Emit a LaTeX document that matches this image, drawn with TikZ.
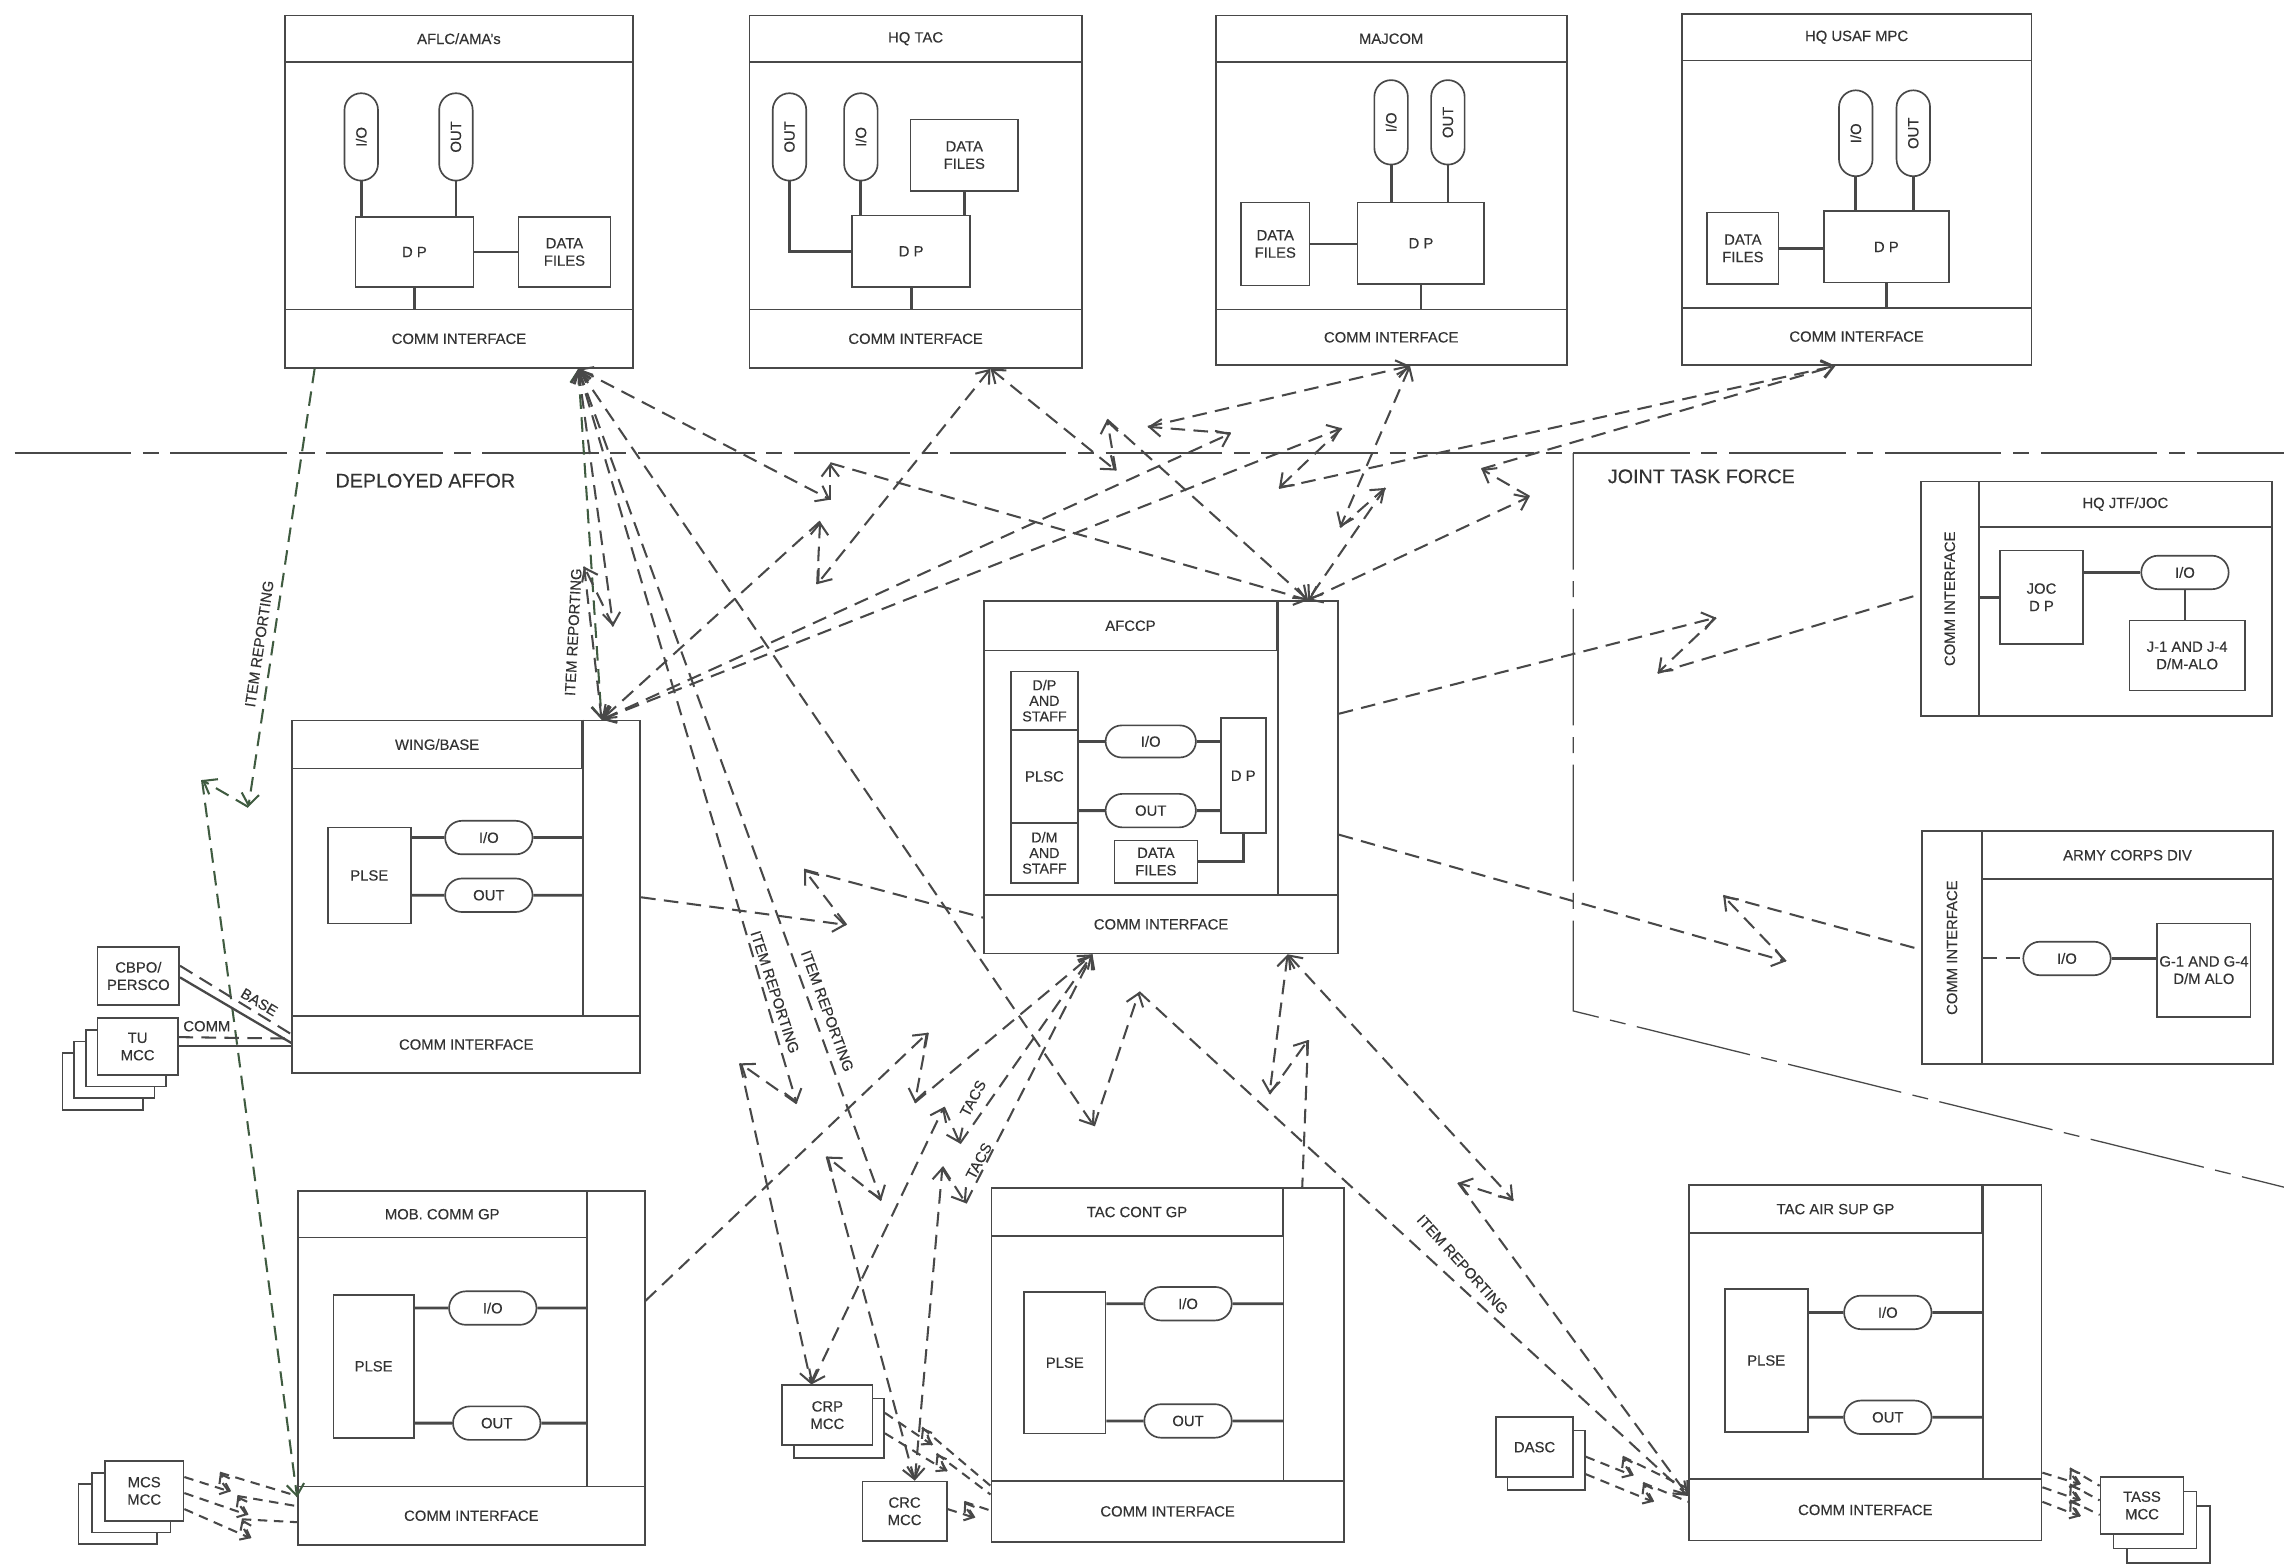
\documentclass[tikz,border=0pt]{standalone}
\usepackage{fontspec}
\setmainfont{Liberation Sans}[FakeBold=0.25]
\usetikzlibrary{arrows.meta,shapes.misc}
\definecolor{ink}{HTML}{484848}
\definecolor{inkt}{HTML}{333333}
\definecolor{inkg}{HTML}{3F5B40}

\begin{document}
\begin{tikzpicture}[x=0.2mm, y=-0.2mm,
		font=\fontsize{5.8}{6.8}\selectfont,
		box/.style={draw=ink, line width=0.65pt, anchor=north west, inner sep=0pt, text=inkt},
		frame/.style={draw=ink, line width=0.65pt},
		blk/.style={draw=ink, line width=0.65pt, inner sep=0pt, align=center, text=inkt},
		sheet/.style={blk, fill=white},
		pill/.style={blk, rounded rectangle, minimum width=12mm, minimum height=4.6mm},
		vpill/.style={pill, rotate=90},
		wire/.style={draw=ink, line width=1.1pt},
		link/.style={draw=ink, line width=0.8pt, dash pattern=on 2mm off 1.15mm, >={Straight Barb[length=1.6mm, width=2.4mm]}},
		glink/.style={link, draw=inkg},
		zap/.style={link, dash pattern=on 1.3mm off 0.9mm, >={Straight Barb[length=1.1mm, width=1.6mm]}},
		zone/.style={draw=ink, line width=0.5pt, dash pattern=on 16mm off 1.6mm on 2.2mm off 1.6mm},
		tag/.style={text=inkt, inner sep=0pt},
		region/.style={text=inkt, inner sep=0pt, font=\fontsize{7.7}{9}\selectfont}]
		\useasboundingbox[fill=white] (0,0) rectangle (1568,1074);

		% region borders
		\draw[zone] (10,311) -- (1568,311);
		\draw[zone] (1080,311) -- (1080,694) -- (1568,815);
		\node[region] (affor) at (292,330) {DEPLOYED AFFOR};
		\node[region] (jtforce) at (1168,327) {JOINT TASK FORCE};

		% AFLC/AMA's
		\node[box, minimum width=47.8mm, minimum height=48.4mm] (aflc) at (195,10) {};
		\node[box, minimum width=47.8mm, minimum height=6.4mm] (aflc-t) at (195,10) {AFLC/AMA's};
		\node[box, minimum width=47.8mm, minimum height=8mm] (aflc-ci) at (195,212) {COMM INTERFACE};
		\node[vpill] (aflc-io) at (248,94) {I/O};
		\node[vpill] (aflc-out) at (313,94) {OUT};
		\node[blk, minimum width=16.2mm, minimum height=9.6mm] (aflc-dp) at (284.5,173) {D P};
		\node[blk, minimum width=12.6mm, minimum height=9.6mm] (aflc-df) at (387.5,173) {DATA\\FILES};
		\draw[wire] (aflc-io.west) -- (aflc-io.west |- aflc-dp.north);
		\draw[wire] (aflc-out.west) -- (aflc-out.west |- aflc-dp.north);
		\draw[wire] (aflc-dp) -- (aflc-df);
		\draw[wire] (aflc-dp.south) -- (aflc-dp.south |- aflc-ci.north);

		% HQ TAC
		\node[box, minimum width=45.6mm, minimum height=48.4mm] (hqtac) at (514,10) {};
		\node[box, minimum width=45.6mm, minimum height=6.4mm] (hqtac-t) at (514,10) {HQ TAC};
		\node[box, minimum width=45.6mm, minimum height=8mm] (hqtac-ci) at (514,212) {COMM INTERFACE};
		\node[vpill] (hqtac-out) at (542,94) {OUT};
		\node[vpill] (hqtac-io) at (591,94) {I/O};
		\node[blk, minimum width=14.8mm, minimum height=9.8mm] (hqtac-df) at (662,106.5) {DATA\\FILES};
		\node[blk, minimum width=16.2mm, minimum height=9.8mm] (hqtac-dp) at (625.5,172.5) {D P};
		\draw[wire] (hqtac-out.west) |- (hqtac-dp.west);
		\draw[wire] (hqtac-io.west) -- (hqtac-io.west |- hqtac-dp.north);
		\draw[wire] (hqtac-df.south) -- (hqtac-df.south |- hqtac-dp.north);
		\draw[wire] (hqtac-dp.south) -- (hqtac-dp.south |- hqtac-ci.north);

		% MAJCOM
		\node[box, minimum width=48.2mm, minimum height=48mm] (majcom) at (834,10) {};
		\node[box, minimum width=48.2mm, minimum height=6.4mm] (majcom-t) at (834,10) {MAJCOM};
		\node[box, minimum width=48.2mm, minimum height=7.6mm] (majcom-ci) at (834,212) {COMM INTERFACE};
		\node[vpill, minimum width=11.6mm] (majcom-io) at (955,84) {I/O};
		\node[vpill, minimum width=11.6mm] (majcom-out) at (994,84) {OUT};
		\node[blk, minimum width=9.4mm, minimum height=11.4mm] (majcom-df) at (875.5,167.5) {DATA\\FILES};
		\node[blk, minimum width=17.4mm, minimum height=11.2mm] (majcom-dp) at (975.5,167) {D P};
		\draw[wire] (majcom-io.west) -- (majcom-io.west |- majcom-dp.north);
		\draw[wire] (majcom-out.west) -- (majcom-out.west |- majcom-dp.north);
		\draw[wire] (majcom-df.east) -- (majcom-df.east -| majcom-dp.west);
		\draw[wire] (majcom-dp.south) -- (majcom-dp.south |- majcom-ci.north);

		% HQ USAF MPC
		\node[box, minimum width=48mm, minimum height=48.2mm] (mpc) at (1154,9) {};
		\node[box, minimum width=48mm, minimum height=6.4mm] (mpc-t) at (1154,9) {HQ USAF MPC};
		\node[box, minimum width=48mm, minimum height=7.8mm] (mpc-ci) at (1154,211) {COMM INTERFACE};
		\node[vpill, minimum width=11.8mm] (mpc-io) at (1274,91.5) {I/O};
		\node[vpill, minimum width=11.8mm] (mpc-out) at (1313.5,91.5) {OUT};
		\node[blk, minimum width=9.8mm, minimum height=9.8mm] (mpc-df) at (1196.5,170.5) {DATA\\FILES};
		\node[blk, minimum width=17.2mm, minimum height=9.8mm] (mpc-dp) at (1295,169.5) {D P};
		\draw[wire] (mpc-io.west) -- (mpc-io.west |- mpc-dp.north);
		\draw[wire] (mpc-out.west) -- (mpc-out.west |- mpc-dp.north);
		\draw[wire] (mpc-df.east) -- (mpc-df.east -| mpc-dp.west);
		\draw[wire] (mpc-dp.south) -- (mpc-dp.south |- mpc-ci.north);

		% WING/BASE
		\node[box, minimum width=47.8mm, minimum height=48.4mm] (wing) at (200,494) {};
		\node[box, minimum width=39.8mm, minimum height=6.6mm] (wing-t) at (200,494) {WING/BASE};
		\node[box, minimum width=47.8mm, minimum height=7.8mm] (wing-ci) at (200,697) {COMM INTERFACE};
		\draw[frame] (wing-t.north east) -- (wing-t.north east |- wing-ci.north);
		\node[blk, minimum width=11.4mm, minimum height=13.2mm] (wing-plse) at (253.5,601) {PLSE};
		\node[pill] (wing-io) at (335.6,575) {I/O};
		\node[pill] (wing-out) at (335.6,614.6) {OUT};
		\draw[wire] (wing-plse.east |- wing-io) -- (wing-io) -- (wing-io -| wing-t.east);
		\draw[wire] (wing-plse.east |- wing-out) -- (wing-out) -- (wing-out -| wing-t.east);

		% AFCCP
		\node[box, minimum width=48.6mm, minimum height=48.4mm] (afccp) at (675,412) {};
		\node[box, minimum width=40.2mm, minimum height=6.8mm] (afccp-t) at (675,412) {AFCCP};
		\node[box, minimum width=48.6mm, minimum height=8mm] (afccp-ci) at (675,614) {COMM INTERFACE};
		\draw[frame] (afccp-t.north east) -- (afccp-t.north east |- afccp-ci.north);
		\node[blk, minimum width=9.2mm, minimum height=8mm, font=\fontsize{5.6}{6.1}\selectfont] (afccp-dps) at (717,481) {D/P\\AND\\STAFF};
		\node[blk, minimum width=9.2mm, minimum height=12.8mm] (afccp-plsc) at (717,533) {PLSC};
		\node[blk, minimum width=9.2mm, minimum height=8.2mm, font=\fontsize{5.6}{6.1}\selectfont] (afccp-dms) at (717,585.5) {D/M\\AND\\STAFF};
		\node[pill, minimum width=12.4mm, minimum height=4.4mm] (afccp-io) at (790,509) {I/O};
		\node[pill, minimum width=12.4mm] (afccp-out) at (790,556.5) {OUT};
		\node[blk, minimum width=6.2mm, minimum height=15.8mm] (afccp-dp) at (853.5,532.5) {D P};
		\node[blk, minimum width=11.4mm, minimum height=5.8mm] (afccp-df) at (793.5,591.5) {DATA\\FILES};
		\draw[wire] (afccp-plsc.east |- afccp-io) -- (afccp-io) -- (afccp-io -| afccp-dp.west);
		\draw[wire] (afccp-plsc.east |- afccp-out) -- (afccp-out) -- (afccp-out -| afccp-dp.west);
		\draw[wire] (afccp-dp.south) |- (afccp-df.east);

		% HQ JTF/JOC
		\node[box, minimum width=48.2mm, minimum height=32.2mm] (jtf) at (1318,330) {};
		\node[box, minimum width=8mm, minimum height=32.2mm] (jtf-ci) at (1318,330) {};
		\node[tag, rotate=90] (jtf-cit) at (jtf-ci) {COMM INTERFACE};
		\node[box, minimum width=40.2mm, minimum height=6.2mm] (jtf-t) at (1358,330) {HQ JTF/JOC};
		\node[blk, minimum width=11.4mm, minimum height=12.8mm] (jtf-dp) at (1401.5,410) {JOC\\D P};
		\node[pill] (jtf-io) at (1500,393) {I/O};
		\node[blk, minimum width=15.8mm, minimum height=9.6mm] (jtf-j) at (1501.5,450) {J-1 AND J-4\\D/M-ALO};
		\draw[wire] (jtf-ci.east |- jtf-dp) -- (jtf-dp);
		\draw[wire] (jtf-io -| jtf-dp.east) -- (jtf-io);
		\draw[wire] (jtf-io.south) -- (jtf-io.south |- jtf-j.north);

		% ARMY CORPS DIV
		\node[box, minimum width=48.2mm, minimum height=32mm] (army) at (1319,570) {};
		\node[box, minimum width=8.2mm, minimum height=32mm] (army-ci) at (1319,570) {};
		\node[tag, rotate=90] (army-cit) at (army-ci) {COMM INTERFACE};
		\node[box, minimum width=40mm, minimum height=6.6mm] (army-t) at (1360,570) {ARMY CORPS DIV};
		\node[pill] (army-io) at (1419,658) {I/O};
		\node[blk, minimum width=12.8mm, minimum height=12.8mm] (army-g) at (1513,666) {};
		\node[tag, align=center] (army-gt) at (army-g) {G-1 AND G-4\\D/M ALO};
		\draw[link] (army-ci.east |- army-io) -- (army-io);
		\draw[wire] (army-io) -- (army-io -| army-g.west);

		% MOB. COMM GP
		\node[box, minimum width=47.6mm, minimum height=48.6mm] (mob) at (204,817) {};
		\node[box, minimum width=39.6mm, minimum height=6.4mm] (mob-t) at (204,817) {MOB. COMM GP};
		\node[box, minimum width=47.6mm, minimum height=8mm] (mob-ci) at (204,1020) {COMM INTERFACE};
		\draw[frame] (mob-t.north east) -- (mob-t.north east |- mob-ci.north);
		\node[blk, minimum width=11mm, minimum height=19.6mm] (mob-plse) at (256.5,938) {PLSE};
		\node[pill] (mob-io) at (338.3,898) {I/O};
		\node[pill] (mob-out) at (341,977) {OUT};
		\draw[wire] (mob-plse.east |- mob-io) -- (mob-io) -- (mob-io -| mob-t.east);
		\draw[wire] (mob-plse.east |- mob-out) -- (mob-out) -- (mob-out -| mob-t.east);

		% TAC CONT GP
		\node[box, minimum width=48.4mm, minimum height=48.6mm] (tcg) at (680,815) {};
		\node[box, minimum width=40mm, minimum height=6.6mm] (tcg-t) at (680,815) {TAC CONT GP};
		\node[box, minimum width=48.4mm, minimum height=8.4mm] (tcg-ci) at (680,1016) {COMM INTERFACE};
		\draw[frame] (tcg-t.north east) -- (tcg-t.north east |- tcg-ci.north);
		\node[blk, minimum width=11.2mm, minimum height=19.4mm] (tcg-plse) at (731,935.5) {PLSE};
		\node[pill] (tcg-io) at (815.6,895) {I/O};
		\node[pill] (tcg-out) at (815.6,975.5) {OUT};
		\draw[wire] (tcg-plse.east |- tcg-io) -- (tcg-io) -- (tcg-io -| tcg-t.east);
		\draw[wire] (tcg-plse.east |- tcg-out) -- (tcg-out) -- (tcg-out -| tcg-t.east);

		% TAC AIR SUP GP
		\node[box, minimum width=48.4mm, minimum height=48.8mm] (tasg) at (1159,813) {};
		\node[box, minimum width=40.2mm, minimum height=6.6mm] (tasg-t) at (1159,813) {TAC AIR SUP GP};
		\node[box, minimum width=48.4mm, minimum height=8.4mm] (tasg-ci) at (1159,1015) {COMM INTERFACE};
		\draw[frame] (tasg-t.north east) -- (tasg-t.north east |- tasg-ci.north);
		\node[blk, minimum width=11.4mm, minimum height=19.6mm] (tasg-plse) at (1212.5,934) {PLSE};
		\node[pill] (tasg-io) at (1296,901) {I/O};
		\node[pill] (tasg-out) at (1296,973) {OUT};
		\draw[wire] (tasg-plse.east |- tasg-io) -- (tasg-io) -- (tasg-io -| tasg-t.east);
		\draw[wire] (tasg-plse.east |- tasg-out) -- (tasg-out) -- (tasg-out -| tasg-t.east);

		% small units
		\node[sheet, minimum width=11mm, minimum height=7.8mm] (tu-b3) at (70.5,742.5) {};
		\node[sheet, minimum width=11mm, minimum height=7.8mm] (tu-b2) at (78.5,734.5) {};
		\node[sheet, minimum width=11mm, minimum height=7.8mm] (tu-b1) at (86.5,726.5) {};
		\node[sheet, minimum width=11mm, minimum height=7.8mm] (tu) at (94.5,718.5) {TU\\MCC};
		\node[sheet, minimum width=11.2mm, minimum height=8mm] (cbpo) at (95,670) {CBPO/\\PERSCO};
		\node[sheet, minimum width=10.8mm, minimum height=8.2mm] (mcs-b2) at (81,1039.5) {};
		\node[sheet, minimum width=10.8mm, minimum height=8.2mm] (mcs-b1) at (90,1031.5) {};
		\node[sheet, minimum width=10.8mm, minimum height=8.2mm] (mcs) at (99,1023.5) {MCS\\MCC};
		\node[sheet, minimum width=12.4mm, minimum height=8.2mm] (crp-b) at (576,980.5) {};
		\node[sheet, minimum width=12.4mm, minimum height=8.2mm] (crp) at (568,971.5) {CRP\\MCC};
		\node[sheet, minimum width=11.6mm, minimum height=8.2mm] (crc) at (621,1037.5) {CRC\\MCC};
		\node[sheet, minimum width=10.6mm, minimum height=8.2mm] (dasc-b) at (1061.5,1002.5) {};
		\node[sheet, minimum width=10.6mm, minimum height=8.2mm] (dasc) at (1053.5,993.5) {DASC};
		\node[sheet, minimum width=11.4mm, minimum height=7.8mm] (tass-b2) at (1488.5,1053.5) {};
		\node[sheet, minimum width=11.4mm, minimum height=7.8mm] (tass-b1) at (1479.5,1043.5) {};
		\node[sheet, minimum width=11.4mm, minimum height=7.8mm] (tass) at (1470.5,1033.5) {TASS\\MCC};

		% link end points
		\coordinate (aflc-h1) at (216,0 |- aflc.south);
		\coordinate (aflc-h2) at (397,0 |- aflc.south);
		\coordinate (hqtac-h) at (680,0 |- hqtac.south);
		\coordinate (majcom-h) at (968,0 |- majcom.south);
		\coordinate (mpc-h) at (1260,0 |- mpc.south);
		\coordinate (wing-h) at (413,0 |- wing.north);
		\coordinate (wing-e) at (wing.east |- 0,616);
		\coordinate (afccp-h) at (898,0 |- afccp.north);
		\coordinate (afccp-s1) at (750,0 |- afccp.south);
		\coordinate (afccp-s2) at (884,0 |- afccp.south);
		\coordinate (afccp-e1) at (afccp.east |- 0,490);
		\coordinate (afccp-e2) at (afccp.east |- 0,573);
		\coordinate (afccp-w) at (afccp.west |- 0,630);
		\coordinate (jtf-w) at (jtf.west |- 0,408);
		\coordinate (army-w) at (army.west |- 0,652);
		\coordinate (mob-e) at (mob.east |- 0,893);
		\coordinate (mob-w) at (mob.west |- 0,1028);
		\coordinate (tcg-h) at (894,0 |- tcg.north);
		\coordinate (tasg-w) at (tasg.west |- 0,1027);
		\coordinate (crp-h) at (557,0 |- crp.north);
		\coordinate (crc-h) at (628,0 |- crc.north);

		% zig points of the radio links
		\coordinate (z1a) at (170.5,554);  \coordinate (z1b) at (138.7,535.5);
		\coordinate (z3a) at (421,430);    \coordinate (z3b) at (401,389);
		\coordinate (z4a) at (547,757.5);  \coordinate (z4b) at (508,730);
		\coordinate (z5a) at (605,824);    \coordinate (z5b) at (567.5,794);
		\coordinate (z6a) at (751,773);    \coordinate (z6b) at (782,681);
		\coordinate (z7a) at (570,343);    \coordinate (z7b) at (570,318);
		\coordinate (z8a) at (561,401);    \coordinate (z8b) at (563,358);
		\coordinate (z9a) at (766,323);    \coordinate (z9b) at (760,288);
		\coordinate (z10a) at (845,297.5); \coordinate (z10b) at (788,293);
		\coordinate (z11a) at (921,294);   \coordinate (z11b) at (878,335);
		\coordinate (z12a) at (920,362);   \coordinate (z12b) at (951,335);
		\coordinate (z13a) at (1050,341);  \coordinate (z13b) at (1017,322);
		\coordinate (z14a) at (1178,424);  \coordinate (z14b) at (1138,462);
		\coordinate (z15a) at (1226,660);  \coordinate (z15b) at (1183,615);
		\coordinate (z16a) at (581,635);   \coordinate (z16b) at (552,597);
		\coordinate (z17a) at (637,709);   \coordinate (z17b) at (628,757);
		\coordinate (z18a) at (648,760);   \coordinate (z18b) at (659,785);
		\coordinate (z19a) at (647,801);   \coordinate (z19b) at (663,826);
		\coordinate (z20a) at (871.5,751); \coordinate (z20b) at (898,714);
		\coordinate (z21a) at (1039,824);  \coordinate (z21b) at (1001,812);

		% long links
		\draw[glink] (aflc-h1) edge[->] (z1a) (z1a) edge[->] (z1b) (z1b) edge[->] (mob-w);
		\draw[glink, <->] (aflc-h2) -- (wing-h);
		\draw[link] (aflc-h2) edge[<->] (z3a) (z3a) edge[->] (z3b) (z3b) edge[->] (wing-h);
		\draw[link] (aflc-h2) edge[<->] (z4a) (z4a) edge[->] (z4b) (z4b) edge[->] (crp-h);
		\draw[link] (aflc-h2) edge[<->] (z5a) (z5a) edge[->] (z5b) (z5b) edge[->] (crc-h);
		\draw[link] (aflc-h2) edge[<->] (z6a) (z6a) edge[->] (z6b) (z6b) edge[->] (tasg-w);
		\draw[link] (aflc-h2) edge[<->] (z7a) (z7a) edge[->] (z7b) (z7b) edge[->] (afccp-h);
		\draw[link] (hqtac-h) edge[<->] (z8a) (z8a) edge[->] (z8b) (z8b) edge[->] (wing-h);
		\draw[link] (hqtac-h) edge[<->] (z9a) (z9a) edge[->] (z9b) (z9b) edge[->] (afccp-h);
		\draw[link] (wing-h) edge[<->] (z10a) (z10a) edge[->] (z10b) (z10b) edge[->] (majcom-h);
		\draw[link] (wing-h) edge[<->] (z11a) (z11a) edge[->] (z11b) (z11b) edge[->] (mpc-h);
		\draw[link] (majcom-h) edge[<->] (z12a) (z12a) edge[->] (z12b) (z12b) edge[->] (afccp-h);
		\draw[link] (afccp-h) edge[<->] (z13a) (z13a) edge[->] (z13b) (z13b) edge[->] (mpc-h);
		\draw[link] (afccp-e1) edge[->] (z14a) (z14a) edge[->] (z14b) (z14b) edge (jtf-w);
		\draw[link] (afccp-e2) edge[->] (z15a) (z15a) edge[->] (z15b) (z15b) edge (army-w);
		\draw[link] (wing-e) edge[->] (z16a) (z16a) edge[->] (z16b) (z16b) edge (afccp-w);
		\draw[link] (mob-e) edge[->] (z17a) (z17a) edge[->] (z17b) (z17b) edge[->] (afccp-s1);
		\draw[link] (crp-h) edge[<->] (z18a) (z18a) edge[->] (z18b) (z18b) edge[->] (afccp-s1);
		\draw[link] (crc-h) edge[<->] (z19a) (z19a) edge[->] (z19b) (z19b) edge[->] (afccp-s1);
		\draw[link] (afccp-s2) edge[<->] (z20a) (z20a) edge[->] (z20b) (z20b) edge (tcg-h);
		\draw[link] (afccp-s2) edge[<->] (z21a) (z21a) edge[->] (z21b) (z21b) edge[->] (tasg-w);

		% base comm lines
		\draw[wire, line width=0.9pt] (cbpo.east |- 0,671) -- (wing.west |- 0,716);
		\draw[link] (cbpo.east |- 0,663) -- (wing.west |- 0,710);
		\draw[wire, line width=0.9pt] (tu.east |- 0,718) -- (wing.west |- 0,718);
		\draw[link] (tu.east |- 0,712) -- (wing.west |- 0,713);

		% short radio links
		\draw[zap] (mcs.east |- 0,1014) edge[->] (158,1024) (158,1024) edge[->] (151,1011) (151,1011) edge (mob.west |- 0,1027);
		\draw[zap] (mcs.east |- 0,1025) edge[->] (170,1040) (170,1040) edge[->] (163,1027) (163,1027) edge (mob.west |- 0,1034);
		\draw[zap] (mcs.east |- 0,1036) edge[->] (172,1056) (172,1056) edge[->] (166,1043) (166,1043) edge (mob.west |- 0,1045);
		\draw[zap] (crp-b.east |- 0,970) edge[->] (640,992) (640,992) edge[->] (633,980) (633,980) edge (tcg.west |- 0,1020);
		\draw[zap] (crp-b.east |- 0,984) edge[->] (650,1010) (650,1010) edge[->] (643,998) (643,998) edge (tcg.west |- 0,1026);
		\draw[zap] (crc.east |- 0,1036) edge[->] (669,1042) (669,1042) edge[->] (662,1031) (662,1031) edge (tcg.west |- 0,1037);
		\draw[zap] (dasc-b.east |- 0,1000) edge[->] (1121,1013) (1121,1013) edge[->] (1114,1000) (1114,1000) edge (tasg.west |- 0,1022);
		\draw[zap] (dasc-b.east |- 0,1012) edge[->] (1135,1031) (1135,1031) edge[->] (1128,1018) (1128,1018) edge (tasg.west |- 0,1031);
		\draw[zap] (tasg.east |- 0,1011) edge[->] (1428,1019) (1428,1019) edge[->] (1421,1008) (1421,1008) edge (tass.west |- 0,1020);
		\draw[zap] (tasg.east |- 0,1021) edge[->] (1428,1030) (1428,1030) edge[->] (1421,1019) (1421,1019) edge (tass.west |- 0,1030);
		\draw[zap] (tasg.east |- 0,1031) edge[->] (1428,1041) (1428,1041) edge[->] (1421,1030) (1421,1030) edge (tass.west |- 0,1040);

		% link labels
		\node[tag, rotate=81.5] (ir1) at (178,442) {ITEM REPORTING};
		\node[tag, rotate=87] (ir2) at (393.5,434) {ITEM REPORTING};
		\node[tag, rotate=-72] (ir3) at (532,681) {ITEM REPORTING};
		\node[tag, rotate=-70] (ir4) at (568,694) {ITEM REPORTING};
		\node[tag, rotate=-48] (ir5) at (1004,868) {ITEM REPORTING};
		\node[tag, rotate=62] (tacs1) at (668,754) {TACS};
		\node[tag, rotate=62] (tacs2) at (672,797) {TACS};
		\node[tag, rotate=-31] (base) at (178,688) {BASE};
		\node[tag] (comm) at (142,704.5) {COMM};
\end{tikzpicture}
\end{document}
